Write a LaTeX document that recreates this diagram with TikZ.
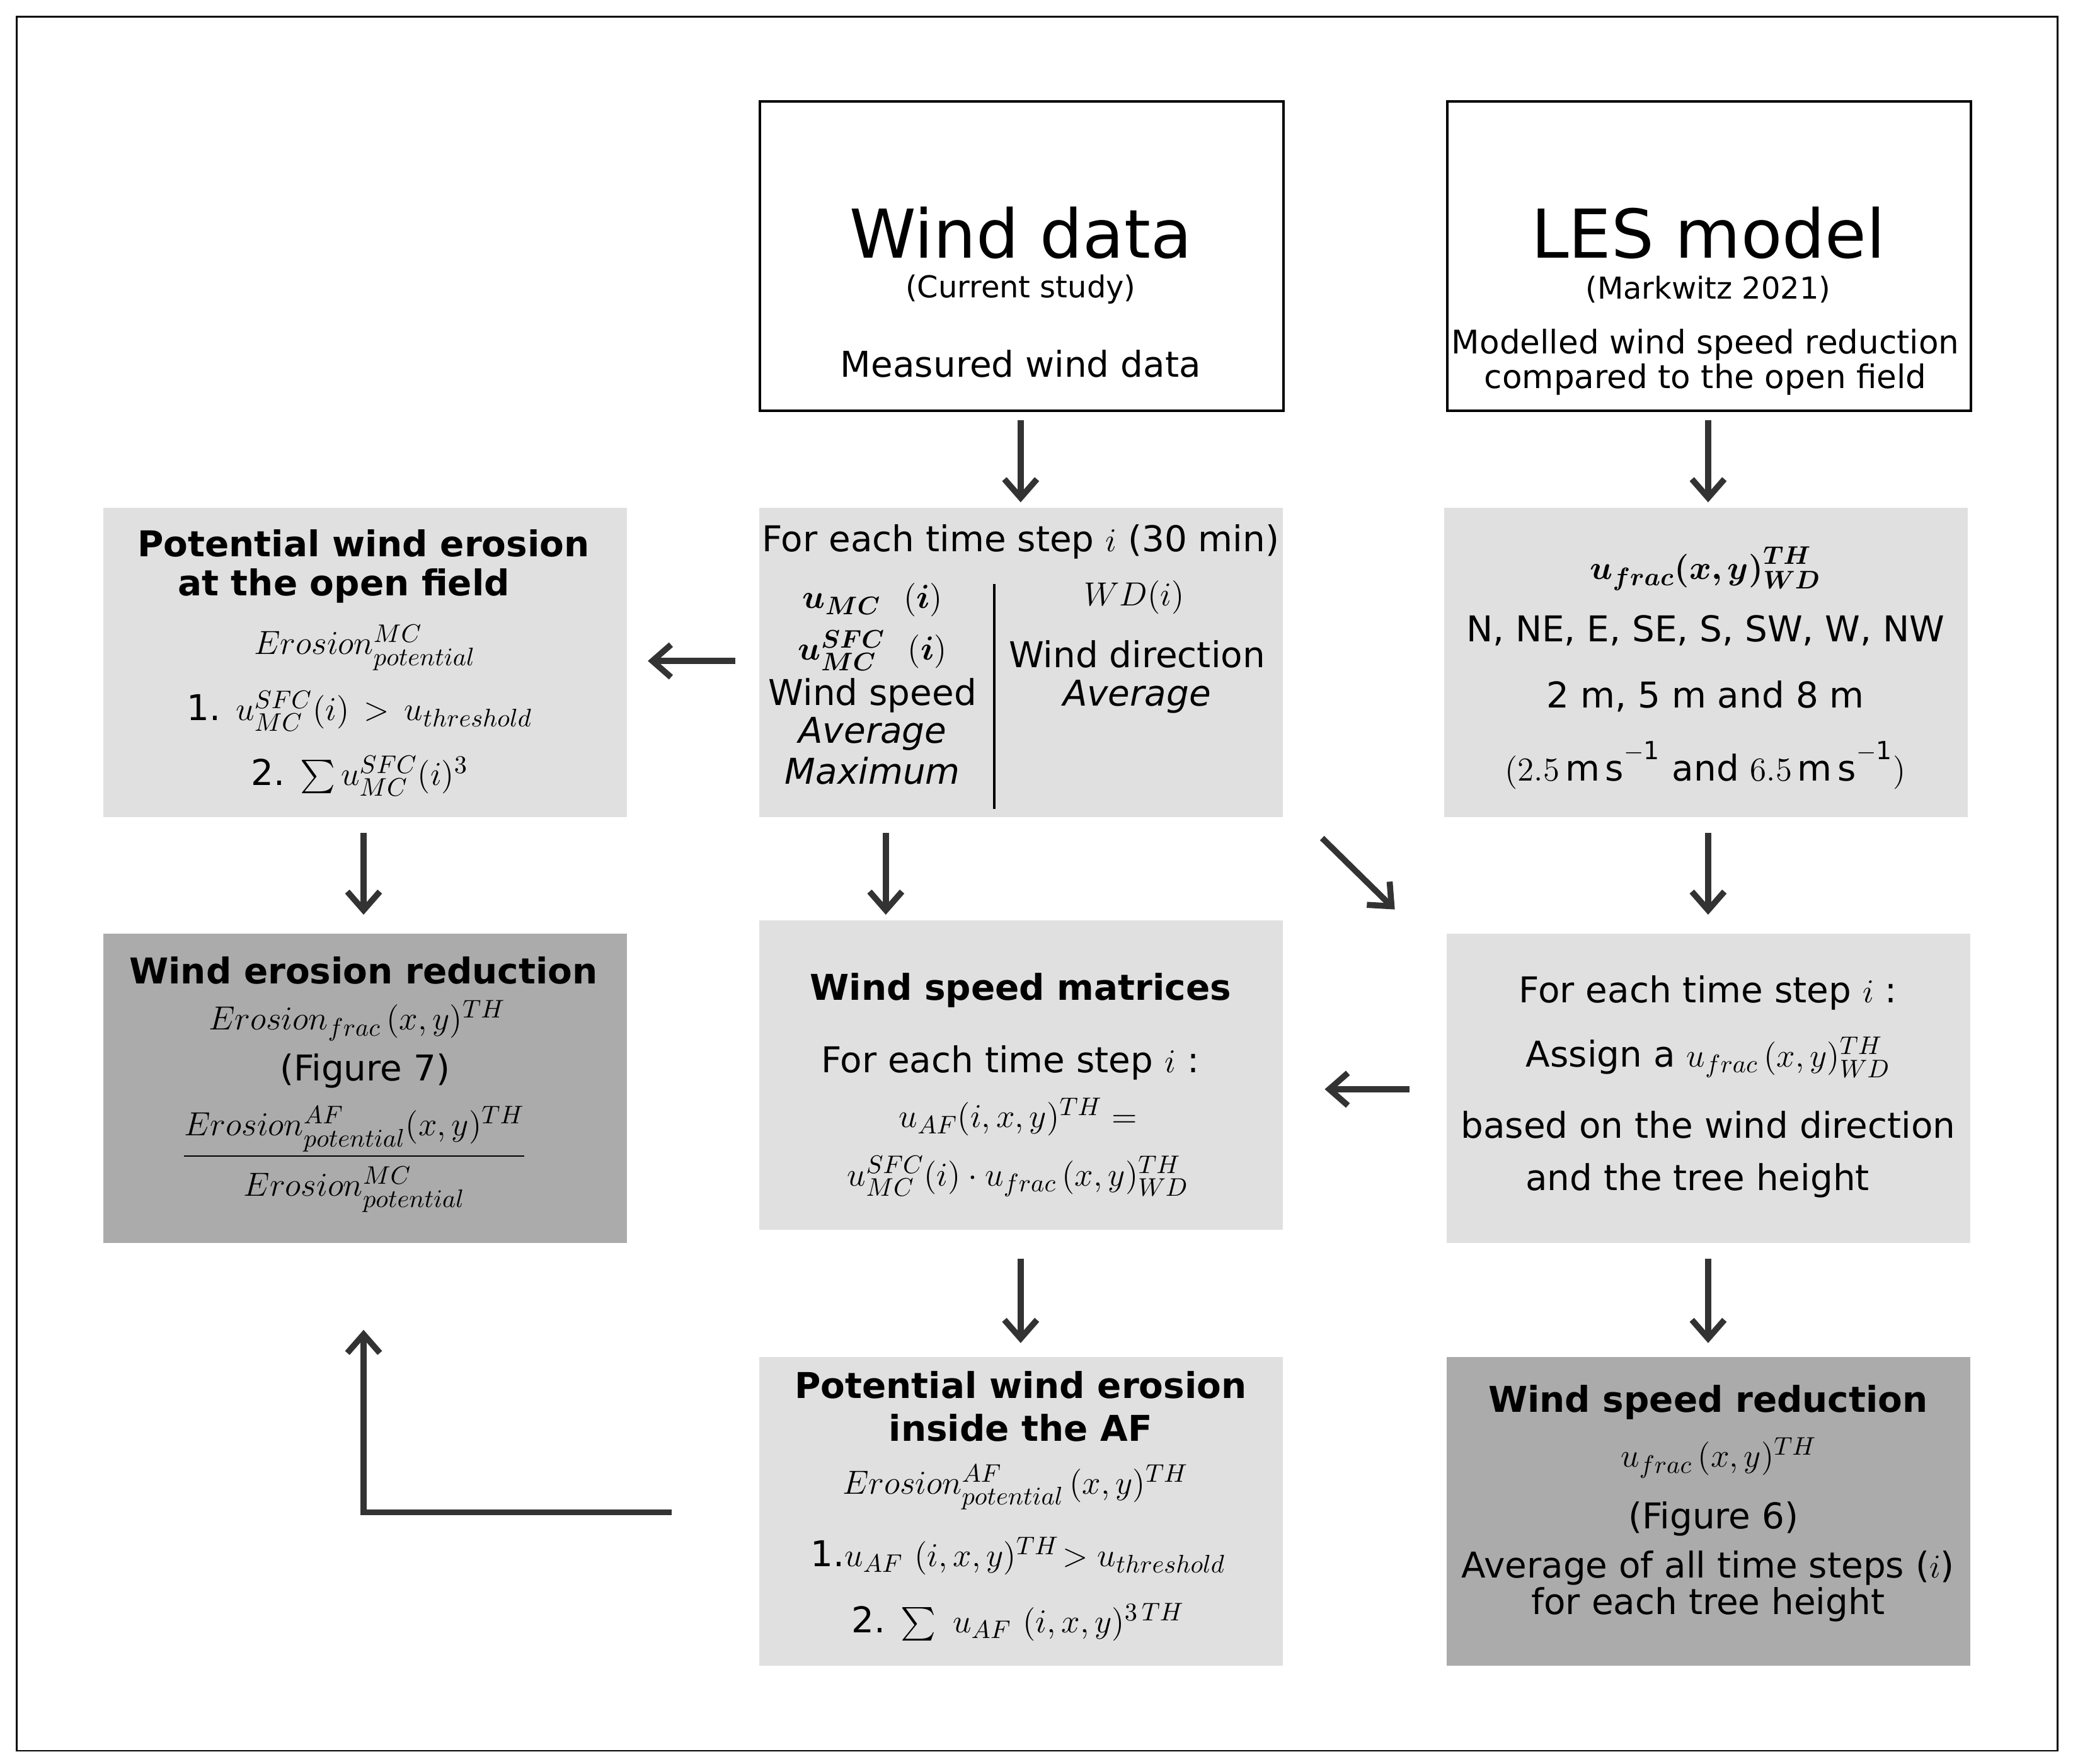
\documentclass[tikz,border=0pt]{standalone}
\usepackage{amsmath,bm}
\usepackage{fontspec}
\setmainfont{DejaVu Sans}
\usetikzlibrary{arrows.meta}
\begin{document}
\begin{tikzpicture}[x=0.02cm,y=-0.02cm,
  box/.style={draw=none,fill=#1,minimum width=7.92cm,minimum height=4.68cm,anchor=north west,inner sep=0},
  wbox/.style={draw=black,line width=1pt,fill=white,minimum width=7.92cm,minimum height=4.68cm,anchor=north west,inner sep=0},
  t/.style={font=\fontsize{15.3}{18}\selectfont,inner sep=0},
  tl/.style={font=\fontsize{14}{17}\selectfont,inner sep=0},
  bt/.style={font=\fontsize{15.3}{18}\selectfont\bfseries,inner sep=0},
  big/.style={font=\fontsize{29}{34}\selectfont,inner sep=0},
  sm/.style={font=\fontsize{13}{15}\selectfont,inner sep=0},
  arr/.style={draw=black!80,line width=2.6pt,-{Straight Barb[length=8pt,width=14pt,line width=2.6pt]}}]
\useasboundingbox (0,0) rectangle (1568,1334);
\node[draw=black,line width=0.8pt,minimum width=30.88cm,minimum height=26.24cm,anchor=north west,inner sep=0] (frame) at (12,12) {};
% boxes
\node[wbox] (wd) at (574,76) {};
\node[wbox] (les) at (1094,76) {};
\node[box=black!12] (open) at (78,384) {};
\node[box=black!12] (ts) at (574,384) {};
\node[box=black!12] (uf) at (1092,384) {};
\node[box=black!33] (red) at (78,706) {};
\node[box=black!12] (wsm) at (574,696) {};
\node[box=black!12] (ts2) at (1094,706) {};
\node[box=black!12] (af) at (574,1026) {};
\node[box=black!33] (wsr) at (1094,1026) {};
% texts
\node[big] (t1) at (772,176) {Wind data};
\node[sm] (t2) at (772,219) {(Current study)};
\node[t] (t3) at (772,275) {Measured wind data};
\node[big] (t4) at (1292,176) {LES model};
\node[sm] (t5) at (1292,219) {(Markwitz 2021)};
\node[tl] (t6) at (1290,261) {Modelled wind speed reduction};
\node[tl] (t7) at (1290,287) {compared to the open field};
\node[bt] (o1) at (275,411) {Potential wind erosion};
\node[bt] (o2) at (260,443) {at the open field};
\node[t] (o3) at (276,490) {$Erosion^{MC}_{potential}$};
\node[t] (o4) at (272,538) {1. $u^{SFC}_{MC}(i)\,>\,u_{threshold}$};
\node[t] (o5) at (272,587) {2. $\sum u^{SFC}_{MC}(i)^3$};
\node[t] (s1) at (772,410) {For each time step $i$ (30 min)};
\draw[line width=1pt] (752,442) -- (752,612);
\node[t] (s2) at (660,454) {$\bm{u_{MC}}\ \ (\bm{i})$};
\node[t] (s3) at (660,492) {$\bm{u^{SFC}_{MC}}\ \ (\bm{i})$};
\node[t] (s4) at (660,526) {Wind speed};
\node[t] (s5) at (660,555) {\itshape Average};
\node[t] (s6) at (660,583) {\itshape Maximum};
\node[t] (s7) at (858,452) {$WD(i)$};
\node[t] (s8) at (860,495) {Wind direction};
\node[t] (s9) at (860,527) {\itshape Average};
\node[t] (u1) at (1290,430) {$\bm{u_{frac}(x,y)^{TH}_{WD}}$};
\node[t] (u2) at (1290,477) {N, NE, E, SE, S, SW, W, NW};
\node[t] (u3) at (1290,527) {2 m, 5 m and 8 m};
\node[t] (u4) at (1290,579) {$(2.5\,\mathrm{m\,s^{-1}}$ and $6.5\,\mathrm{m\,s^{-1}})$};
\node[bt] (r1) at (275,734) {Wind erosion reduction};
\node[t] (r2) at (270,772) {$Erosion_{frac}\,(x,y)^{TH}$};
\node[t] (r3) at (276,810) {(Figure 7)};
\node[t] (r4) at (268,877) {$\dfrac{Erosion^{AF}_{potential}(x,y)^{TH}}{\rule{0pt}{15pt}Erosion^{MC}_{potential}}$};
\node[bt] (m1) at (772,749) {Wind speed matrices};
\node[t] (m2) at (764,804) {For each time step $i$ :};
\node[t] (m3) at (770,845) {$u_{AF}(i,x,y)^{TH} =$};
\node[t] (m4) at (770,890) {$u^{SFC}_{MC}(i)\cdot u_{frac}\,(x,y)^{TH}_{WD}$};
\node[t] (q1) at (1292,751) {For each time step $i$ :};
\node[t] (q2) at (1292,800) {Assign a $u_{frac}\,(x,y)^{TH}_{WD}$};
\node[t] (q3) at (1292,851) {based on the wind direction};
\node[t] (q4) at (1284,893) {and the tree height};
\node[bt] (a1) at (772,1048) {Potential wind erosion};
\node[bt] (a2) at (772,1080) {inside the AF};
\node[t] (a3) at (768,1125) {$Erosion^{AF}_{potential}\,(x,y)^{TH}$};
\node[t] (a4) at (770,1177) {1.$u_{AF}\ (i,x,y)^{TH}\!> u_{threshold}$};
\node[t] (a5) at (770,1227) {2. $\sum\ u_{AF}\ (i,x,y)^{3\,TH}$};
\node[bt] (w1) at (1292,1061) {Wind speed reduction};
\node[t] (w2) at (1300,1103) {$u_{frac}\,(x,y)^{TH}$};
\node[t] (w3) at (1296,1149) {(Figure 6)};
\node[t] (w4) at (1292,1186) {Average of all time steps ($i$)};
\node[t] (w5) at (1292,1214) {for each tree height};
% arrow endpoints
\coordinate (A1s) at (772,318); \coordinate (A1e) at (772,380);
\coordinate (A2s) at (1292,318); \coordinate (A2e) at (1292,380);
\coordinate (A3s) at (556,500); \coordinate (A3e) at (490,500);
\coordinate (A4s) at (275,630); \coordinate (A4e) at (275,692);
\coordinate (A5s) at (670,630); \coordinate (A5e) at (670,692);
\coordinate (A6s) at (1000,634); \coordinate (A6e) at (1055,688);
\coordinate (A7s) at (1292,630); \coordinate (A7e) at (1292,692);
\coordinate (A8s) at (1066,824); \coordinate (A8e) at (1002,824);
\coordinate (A9s) at (772,952); \coordinate (A9e) at (772,1016);
\coordinate (A10s) at (1292,952); \coordinate (A10e) at (1292,1016);
\coordinate (A11s) at (508,1144); \coordinate (A11m) at (275,1144); \coordinate (A11e) at (275,1006);
\foreach \i in {1,...,10} \draw[arr] (A\i s) -- (A\i e);
\draw[arr] (A11s) -- (A11m) -- (A11e);
\end{tikzpicture}
\end{document}
